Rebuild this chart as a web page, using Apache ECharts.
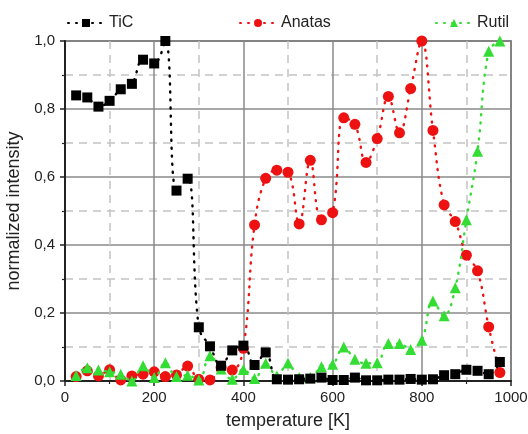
<!DOCTYPE html>
<html>
<head>
<meta charset="utf-8">
<script src="https://cdn.jsdelivr.net/npm/echarts@6/dist/echarts.min.js"></script>
<style>
  html, body { margin: 0; padding: 0; background: #fff; }
  #chart { width: 528px; height: 434px; }
</style>
</head>
<body>
<div id="chart"></div>
<script>
  // temperatures in K
  const temps = [25, 50, 75, 100, 125, 150, 175, 200, 225, 250, 275, 300, 325, 350, 375, 400, 425, 450, 475, 500,
    525, 550, 575, 600, 625, 650, 675, 700, 725, 750, 775, 800, 825, 850, 875, 900, 925, 950, 975]
  const tic = [0.84, 0.834, 0.807, 0.824, 0.858, 0.874, 0.945, 0.934, 1.0, 0.56, 0.595, 0.158, 0.102, 0.045, 0.09, 0.104, 0.047, 0.084, 0.005, 0.004,
    0.005, 0.007, 0.01, 0.003, 0.003, 0.01, 0.002, 0.002, 0.004, 0.004, 0.006, 0.004, 0.005, 0.017, 0.02, 0.033, 0.03, 0.02, 0.056]
  const anatas = [0.013, 0.03, 0.015, 0.033, 0.003, 0.015, 0.02, 0.027, 0.013, 0.018, 0.044, 0.005, 0.003, 0.04, 0.032, 0.096, 0.459, 0.596, 0.62, 0.614,
    0.462, 0.649, 0.474, 0.495, 0.774, 0.755, 0.643, 0.713, 0.837, 0.73, 0.86, 1.0, 0.737, 0.518, 0.469, 0.37, 0.324, 0.159, 0.025]
  const rutil = [0.016, 0.039, 0.032, 0.027, 0.02, 0.0, 0.045, 0.01, 0.054, 0.013, 0.017, 0.003, 0.074, 0.035, 0.005, 0.034, 0.007, 0.052, 0.015, 0.053,
    0.01, 0.01, 0.042, 0.049, 0.1, 0.064, 0.052, 0.054, 0.11, 0.11, 0.093, 0.12, 0.235, 0.192, 0.274, 0.474, 0.676, 0.97, 1.0]

  const font = 'Liberation Sans'
  const chart = echarts.init(document.getElementById('chart'))

  function pairs(vals) {
    return temps.map((t, i) => [t, vals[i]])
  }

  function makeSeries(name, vals, color, symbol, size, z) {
    return {
      name: name,
      type: 'line',
      data: pairs(vals),
      smooth: 0.4,
      symbol: symbol,
      symbolSize: size,
      z: z,
      itemStyle: { color: color },
      lineStyle: { color: color, width: 2.4, type: [1, 7], cap: 'round' }
    }
  }

  function legend(name, left) {
    return {
      data: [name],
      left: left,
      top: 10,
      itemWidth: 36,
      itemHeight: 10,
      itemGap: 4,
      textStyle: { fontFamily: font, fontSize: 16, color: '#222' }
    }
  }

  const option = {
    animation: false,
    backgroundColor: '#fff',
    legend: [legend('TiC', 62), legend('Anatas', 234), legend('Rutil', 430)],
    grid: {
      left: 65, right: 17, top: 41, bottom: 53,
      outerBoundsMode: 'none',
      show: true, borderColor: '#444', borderWidth: 1.5
    },
    xAxis: {
      type: 'value',
      min: 0, max: 1000, interval: 200,
      name: 'temperature [K]',
      nameLocation: 'middle',
      nameGap: 31,
      nameTextStyle: { fontFamily: font, fontSize: 18, color: '#222' },
      axisLine: { lineStyle: { color: '#222', width: 2 } },
      axisTick: { show: true, length: 5, lineStyle: { color: '#222', width: 1.5 } },
      minorTick: { show: true, splitNumber: 2, length: 3, lineStyle: { color: '#222', width: 1.2 } },
      axisLabel: { fontFamily: font, fontSize: 15, color: '#222', margin: 9, formatter: v => String(v) },
      splitLine: { show: true, lineStyle: { color: '#8a8a8a', width: 1.5 } },
      minorSplitLine: { show: true, lineStyle: { color: '#c4c4c4', width: 1.5, type: [8, 6] } }
    },
    yAxis: {
      type: 'value',
      min: 0, max: 1, interval: 0.2,
      name: 'normalized intensity',
      nameLocation: 'middle',
      nameGap: 37,
      nameTextStyle: { fontFamily: font, fontSize: 18, color: '#222' },
      axisLine: { show: true, lineStyle: { color: '#222', width: 2 } },
      axisTick: { show: true, length: 5, lineStyle: { color: '#222', width: 1.5 } },
      minorTick: { show: true, splitNumber: 2, length: 3, lineStyle: { color: '#222', width: 1.2 } },
      axisLabel: {
        fontFamily: font, fontSize: 15, color: '#222', margin: 10,
        formatter: v => v.toFixed(1).replace('.', ',')
      },
      splitLine: { show: true, lineStyle: { color: '#8a8a8a', width: 1.5 } },
      minorSplitLine: { show: true, lineStyle: { color: '#c4c4c4', width: 1.5, type: [8, 6] } }
    },
    series: [
      makeSeries('Anatas', anatas, '#ee1111', 'circle', 11, 2),
      makeSeries('Rutil', rutil, '#33dd33', 'triangle', 11, 3),
      makeSeries('TiC', tic, '#000000', 'rect', 10, 4)
    ]
  }

  chart.setOption(option)
</script>
</body>
</html>
